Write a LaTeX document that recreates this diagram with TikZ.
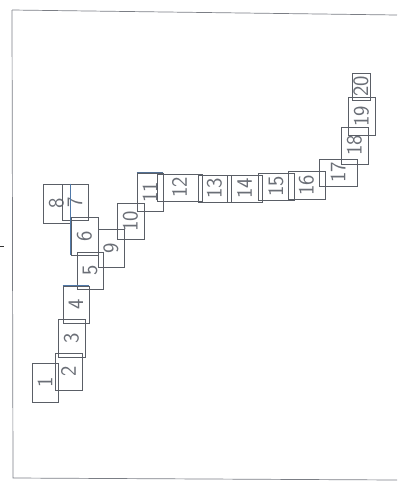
\documentclass[tikz,border=0pt]{standalone}
\usetikzlibrary{fit}
\definecolor{ln}{HTML}{5A5E66}
\definecolor{bl}{HTML}{4F78A8}
\definecolor{tx}{HTML}{6A6E76}
\begin{document}
\begin{tikzpicture}[x=1pt,y=-1pt,
  box/.style={draw=ln,line width=0.9pt,inner sep=0pt},
  lbl/.style={rotate=90,text=tx,font=\sffamily\fontsize{22}{22}\selectfont,inner sep=0pt},
  frame/.style={draw=ln!80,line width=0.7pt}]
\useasboundingbox (0,0) rectangle (398,483);
\draw[frame] (12,10) -- (397,15);
\draw[frame] (12,10) -- (13,478) -- (397,480);
\draw[line width=1pt,black!80] (0,246) -- (4,246);
\newcommand\bx[6]{%
  \node[box,fit={(#2,#3) (#4,#5)}] (b#1) {};
  \node[lbl] (t#1) at (b#1) {#6};}
\bx{1}{32}{363}{58}{402}{1}
\bx{2}{55}{353}{82}{390}{2}
\bx{3}{58}{319}{85}{357}{3}
\bx{4}{63}{286}{89}{323}{4}
\bx{5}{77}{252}{103}{289}{5}
\bx{9}{98}{229}{124}{267}{9}
\bx{6}{71}{217}{98}{255}{6}
\bx{8}{43}{184}{70}{223}{8}
\bx{7}{62}{184}{88}{220}{7}
\bx{10}{117}{203}{144}{239}{10}
\bx{11}{137}{173}{163}{211}{11}
\bx{12}{157}{174}{202}{201}{12}
\bx{13}{198}{175}{231}{202}{13}
\bx{14}{227}{175}{262}{202}{14}
\bx{15}{258}{173}{294}{200}{15}
\bx{16}{288}{171}{325}{199}{16}
\bx{17}{319}{159}{357}{186}{17}
\bx{18}{341}{127}{368}{164}{18}
\bx{19}{348}{97}{375}{135}{19}
\bx{20}{352}{73}{370}{100}{20}
\draw[bl,line width=0.9pt] (b8.north east) -- (b8.south east);
\draw[bl,line width=0.9pt] (b6.north west) -- (b6.south west);
\draw[bl,line width=0.9pt] (b4.north west) -- (b4.north east);
\draw[bl!70!ln,line width=0.9pt] (b11.north west) -- (b11.north east);
\end{tikzpicture}
\end{document}
